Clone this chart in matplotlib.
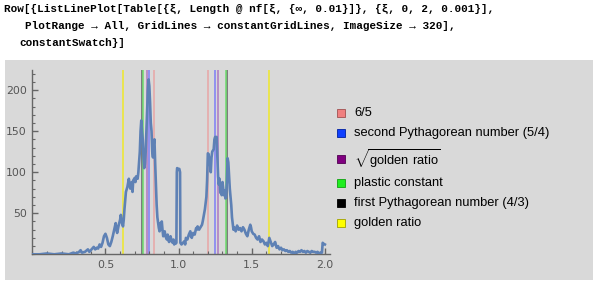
import matplotlib
matplotlib.use("Agg")
import matplotlib.pyplot as plt
from matplotlib.patches import Rectangle
from matplotlib.ticker import MultipleLocator

# ---------------- data ----------------
xi = [0.00, 0.05, 0.10, 0.15, 0.20, 0.25, 0.28, 0.30, 0.32, 0.33, 0.34, 0.36, 0.38, 0.39, 0.40,
      0.42, 0.43, 0.44, 0.45, 0.46, 0.47, 0.48, 0.49, 0.50, 0.51, 0.52, 0.53, 0.54, 0.55, 0.56,
      0.57, 0.575, 0.58, 0.59, 0.60, 0.605, 0.61, 0.62, 0.625, 0.63, 0.64, 0.65, 0.66, 0.665,
      0.67, 0.68, 0.685, 0.69, 0.70, 0.705, 0.71, 0.72, 0.725, 0.73, 0.735, 0.74, 0.745, 0.75,
      0.755, 0.76, 0.765, 0.77, 0.775, 0.78, 0.785, 0.79, 0.795, 0.80, 0.805, 0.81, 0.815, 0.82,
      0.825, 0.83, 0.835, 0.84, 0.845, 0.85, 0.855, 0.86, 0.865, 0.87, 0.875, 0.88, 0.885, 0.89,
      0.895, 0.90, 0.905, 0.91, 0.915, 0.92, 0.925, 0.93, 0.935, 0.94, 0.945, 0.95, 0.955, 0.96,
      0.965, 0.97, 0.975, 0.98, 0.985, 0.988, 0.99, 0.995, 1.005, 1.01, 1.012, 1.02, 1.03, 1.04,
      1.045, 1.05, 1.06, 1.07, 1.08, 1.085, 1.09, 1.10, 1.11, 1.12, 1.125, 1.13, 1.14, 1.15,
      1.16, 1.165, 1.17, 1.18, 1.19, 1.195, 1.20, 1.205, 1.21, 1.215, 1.22, 1.225, 1.23, 1.24,
      1.245, 1.25, 1.255, 1.26, 1.265, 1.27, 1.275, 1.28, 1.285, 1.29, 1.295, 1.30, 1.305, 1.31,
      1.315, 1.32, 1.325, 1.33, 1.335, 1.34, 1.345, 1.35, 1.355, 1.36, 1.365, 1.37, 1.375, 1.38,
      1.39, 1.40, 1.41, 1.42, 1.43, 1.44, 1.45, 1.46, 1.47, 1.48, 1.49, 1.495, 1.50, 1.51, 1.52,
      1.53, 1.54, 1.55, 1.56, 1.57, 1.58, 1.59, 1.60, 1.61, 1.62, 1.63, 1.64, 1.65, 1.66, 1.67,
      1.68, 1.69, 1.70, 1.71, 1.72, 1.73, 1.74, 1.75, 1.76, 1.77, 1.78, 1.79, 1.80, 1.81, 1.82,
      1.83, 1.84, 1.85, 1.86, 1.87, 1.88, 1.89, 1.90, 1.91, 1.92, 1.93, 1.94, 1.95, 1.96, 1.97,
      1.98, 1.985, 1.99, 2.00]
counts = [0, 0, 1, 0, 1, 0, 2, 1, 3, 5, 2, 3, 6, 3, 5,
          9, 6, 8, 7, 12, 9, 14, 22, 25, 20, 12, 10, 15, 22, 30,
          38, 30, 26, 35, 42, 48, 40, 34, 42, 55, 76, 82, 92, 85,
          80, 88, 76, 90, 93, 88, 95, 92, 100, 112, 125, 150, 163, 150,
          140, 118, 105, 110, 125, 150, 175, 200, 213, 205, 185, 160, 150, 125,
          118, 135, 140, 110, 85, 60, 45, 38, 32, 28, 38, 30, 40, 30,
          22, 25, 28, 22, 20, 18, 24, 18, 15, 20, 22, 18, 15, 14,
          18, 12, 15, 13, 14, 100, 105, 104, 104, 100, 14, 12, 14, 16,
          12, 20, 18, 24, 28, 22, 20, 26, 24, 32, 30, 34, 30, 33,
          36, 40, 45, 55, 70, 90, 123, 122, 115, 110, 100, 118, 125, 128,
          140, 143, 140, 143, 120, 95, 85, 92, 75, 80, 72, 88, 80, 72,
          78, 68, 70, 90, 117, 112, 95, 80, 70, 60, 45, 38, 30, 33,
          28, 35, 30, 32, 28, 33, 30, 25, 22, 30, 36, 33, 28, 25, 24,
          20, 18, 22, 15, 18, 16, 12, 14, 10, 20, 15, 10, 12, 15, 8,
          10, 6, 8, 5, 6, 4, 5, 3, 4, 2, 3, 1, 3, 2, 4,
          3, 5, 3, 4, 2, 4, 3, 2, 4, 3, 3, 2, 3, 1, 2,
          2, 14, 13, 12]

const_names = ["6/5", "second Pythagorean number (5/4)", r"$\sqrt{\mathrm{golden\ ratio}}$",
               "plastic constant", "first Pythagorean number (4/3)", "golden ratio"]
const_values = [1.2, 1.25, 1.272019649514069, 1.324717957244746, 4 / 3, 1.618033988749895]
line_colors = ["#e8a8a8", "#8080f4", "#b07cc0", "#70dc70", "#666666", "#eee830"]
line_z = [1.5, 1.5, 1.5, 1.6, 1.2, 1.5]
swatch_colors = ["#f08080", "#1040ff", "#800080", "#20ee20", "#000000", "#ffff00"]
swatch_edges = ["#a05050", "#0020a0", "#500050", "#10a010", "#000000", "#a0a000"]

x_ticks = [0.5, 1.0, 1.5, 2.0]
y_ticks = [50, 100, 150, 200]

code_lines = [
    "Row[{ListLinePlot[Table[{\u03be, Length @ nf[\u03be, {\u221e, 0.01}]}, {\u03be, 0, 2, 0.001}],",
    "PlotRange \u2192 All, GridLines \u2192 constantGridLines, ImageSize \u2192 320],",
    "constantSwatch}]",
]

# ---------------- figure ----------------
W, H = 598, 285
fig = plt.figure(figsize=(W / 100, H / 100), dpi=100)
fig.patch.set_facecolor("white")
plt.rcParams["mathtext.fontset"] = "custom"
plt.rcParams["mathtext.rm"] = "Liberation Sans"

def fx(px):
    return px / W

def fy(py):
    return 1 - py / H

# gray panel
fig.patches.append(Rectangle((fx(5), fy(280)), fx(588), (280 - 60) / H,
                             transform=fig.transFigure, facecolor="#d9d9d9",
                             edgecolor="none", zorder=0))

# code text
mono = ["Liberation Mono", "DejaVu Sans Mono"]
code_x = [4, 25, 19]
code_y = [9, 26, 43]
for s, cx, cy in zip(code_lines, code_x, code_y):
    fig.text(fx(cx), fy(cy), s, family=mono, fontweight="bold", fontsize=7.95,
             va="center", ha="left", color="black")

# axes
ax_left, ax_right, ax_top, ax_bot = 32.3, 330, 70, 254.3
ax = fig.add_axes([fx(ax_left), fy(ax_bot), (ax_right - ax_left) / W, (ax_bot - ax_top) / H])
ax.set_zorder(3)
ax.set_facecolor("none")
ax.set_xlim(0, 2.035)
ax.set_ylim(0, 224.5)

for v, c, z in zip(const_values, line_colors, line_z):
    ax.axvline(v, color=c, lw=1.15, zorder=z)
    ax.axvline(1 / v, color=c, lw=1.15, zorder=z)

ax.plot(xi, counts, color="#5e81b5", lw=1.9, zorder=3, solid_joinstyle="round")

for s in ["top", "right"]:
    ax.spines[s].set_visible(False)
for s in ["left", "bottom"]:
    ax.spines[s].set_color("#666666")
    ax.spines[s].set_linewidth(1.0)
ax.set_xticks(x_ticks)
ax.set_yticks(y_ticks)
ax.set_xticklabels([f"{t:.1f}" for t in x_ticks])
ax.set_yticklabels([str(t) for t in y_ticks])
ax.xaxis.set_minor_locator(MultipleLocator(0.1))
ax.yaxis.set_minor_locator(MultipleLocator(10))
ax.tick_params(which="major", direction="in", length=4, width=1.0, color="#666666",
               labelcolor="#555555", labelsize=7.8, pad=4)
ax.tick_params(which="minor", direction="in", length=2.3, width=0.8, color="#666666")

# legend
rows_y = [113, 133, 159, 183, 203, 223]
for name, fc, ec, ry in zip(const_names, swatch_colors, swatch_edges, rows_y):
    fig.patches.append(Rectangle((fx(337), fy(ry + 4)), 8 / W, 8 / H,
                                 transform=fig.transFigure, facecolor=fc,
                                 edgecolor=ec, lw=0.6, zorder=2))
    fig.text(fx(354), fy(ry), name, family=["Liberation Sans", "DejaVu Sans"],
             fontsize=9.3, va="center", ha="left", color="black")

fig.savefig("out.png", dpi=100)
